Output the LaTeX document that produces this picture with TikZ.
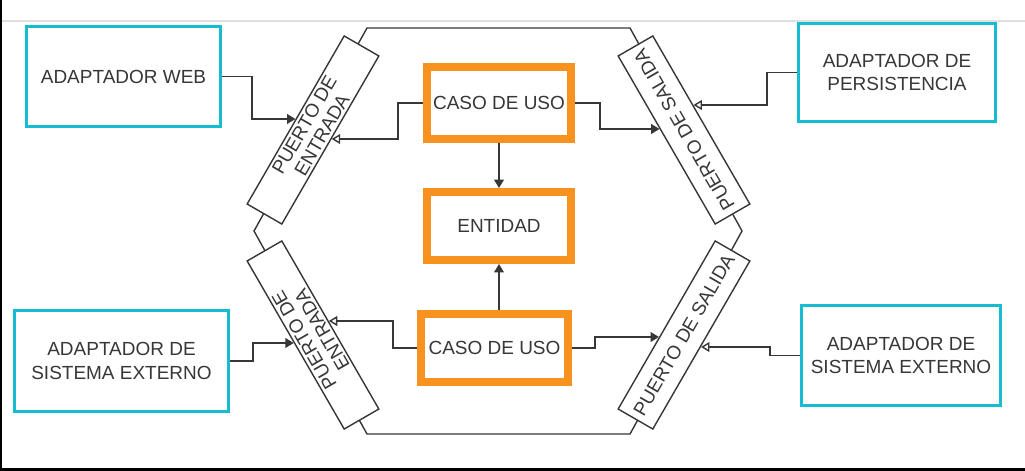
\documentclass[tikz,border=0pt]{standalone}
\usepackage{fontspec}
\setmainfont{Liberation Sans}
\usetikzlibrary{arrows.meta}
\definecolor{cyanbox}{RGB}{22,188,208}
\definecolor{orangebox}{RGB}{247,146,30}
\definecolor{ink}{RGB}{55,55,55}
\begin{document}
\begin{tikzpicture}[x=0.025cm,y=-0.025cm,font=\fontsize{13.5}{16.5}\selectfont,text=ink]
\tikzstyle{ad}=[draw=cyanbox,line width=2.1pt,fill=white,align=center,inner sep=0pt]
\tikzstyle{uc}=[draw=orangebox,line width=5.7pt,fill=white,align=center,inner sep=0pt]
\tikzstyle{port}=[draw=ink,line width=1pt,fill=white,align=center,inner sep=0pt,minimum width=4.85cm,minimum height=1cm,font=\fontsize{13.5}{14.5}\selectfont]
\tikzstyle{flow}=[draw=ink,line width=1pt,-{Triangle[length=6pt,width=7pt]}]
\tikzstyle{back}=[draw=ink,line width=1pt,-{Triangle[open,length=6pt,width=7pt]}]
\useasboundingbox (0,0) rectangle (1025,471);
% frame
\draw[black!12,line width=1pt] (0,21) -- (1025,21);
\draw[black,line width=1.5pt] (0.5,0) -- (0.5,469.5) -- (1025,469.5);
% hexagon
\draw[ink,line width=1pt] (367,28) -- (630,28) -- (742,231) -- (630,434) -- (367,434) -- (254,231) -- cycle;
% ports
\node[port,rotate=60] (pe1) at (313,130) {PUERTO DE\\ENTRADA};
\node[port,rotate=120] (ps1) at (684,130) {PUERTO DE SALIDA};
\node[port,rotate=120] (pe2) at (313,335) {PUERTO DE\\ENTRADA};
\node[port,rotate=60] (ps2) at (684,335) {PUERTO DE SALIDA};
% adapters
\node[ad,minimum width=4.85cm,minimum height=2.5cm] (web) at (123.5,76.5) {ADAPTADOR WEB};
\node[ad,minimum width=4.925cm,minimum height=2.45cm] (per) at (897,72.5) {ADAPTADOR DE\\PERSISTENCIA};
\node[ad,minimum width=5.35cm,minimum height=2.525cm] (ext1) at (121.5,361) {ADAPTADOR DE\\SISTEMA EXTERNO};
\node[ad,minimum width=4.975cm,minimum height=2.5cm] (ext2) at (901,355.5) {ADAPTADOR DE\\SISTEMA EXTERNO};
% core
\node[uc,minimum width=3.6cm,minimum height=1.8cm] (cu1) at (499,103) {CASO DE USO};
\node[uc,minimum width=3.6cm,minimum height=1.7cm] (ent) at (499,226) {ENTIDAD};
\node[uc,minimum width=3.675cm,minimum height=1.7cm] (cu2) at (494.5,348) {CASO DE USO};
% connectors
\draw[flow] (web.east) -- ++(30,0) |- (intersection of pe1.north west--pe1.north east and 0,119--1,119);
\draw[back] (cu1.west) -- ++(-25,0) |- (intersection of pe1.south west--pe1.south east and 0,139--1,139);
\draw[flow] (cu1.east) -- ++(25,0) |- (intersection of ps1.north west--ps1.north east and 0,129--1,129);
\draw[back] (per.west) -- ++(-30,0) |- (intersection of ps1.south west--ps1.south east and 0,105--1,105);
\draw[flow] (cu1.south) -- (ent.north);
\draw[flow] (ent.south |- cu2.north) -- (ent.south);
\draw[flow] (ext1.east) -- ++(23,0) |- (intersection of pe2.north west--pe2.north east and 0,343--1,343);
\draw[back] (cu2.west) -- ++(-24,0) |- (intersection of pe2.south west--pe2.south east and 0,321--1,321);
\draw[flow] (cu2.east) -- ++(23,0) |- (intersection of ps2.north west--ps2.north east and 0,337--1,337);
\draw[back] (ext2.west) -- ++(-30,0) |- (intersection of ps2.south west--ps2.south east and 0,347--1,347);
\end{tikzpicture}
\end{document}
